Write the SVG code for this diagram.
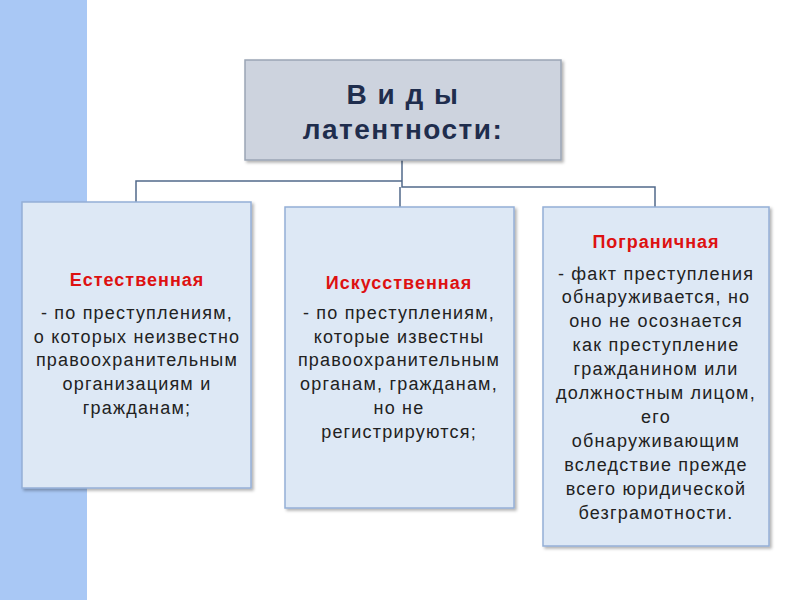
<svg xmlns="http://www.w3.org/2000/svg" width="800" height="600" viewBox="0 0 800 600">
<defs><filter id="sh" x="-5%" y="-5%" width="115%" height="115%"><feDropShadow dx="2" dy="2" stdDeviation="1.5" flood-color="#000" flood-opacity="0.3"/></filter></defs>
<style>
.b{fill:#dde8f5;stroke:#94afd6;stroke-width:1.5;filter:url(#sh)}
.c{fill:none;stroke:#51698a;stroke-width:1.5}
text{font-family:"Liberation Sans",Arial,sans-serif;text-anchor:middle}
.h{fill:#dd1111;font-weight:bold;font-size:18px;letter-spacing:1px}
.t{fill:#222;font-size:18px;letter-spacing:1.2px}
.ti{fill:#1f2d4d;font-weight:bold;font-size:28px;letter-spacing:1.5px}
</style>
<rect width="800" height="600" fill="#fff"/>
<rect x="0" y="0" width="87" height="600" fill="#a9c8f5"/>
<g id="connectors">
<path class="c" d="M402 160V181H136V202M402 181V187H655V207M400 187V207"/>
</g>
<g id="top"><rect class="b" x="245" y="60" width="316" height="100" style="fill:#cdd3de;stroke:#9aa5b5"/>
<text class="ti" x="403" y="104">В и д ы</text><text class="ti" x="403" y="139">латентности:</text></g>
<g id="n1"><rect class="b" x="22" y="202" width="229" height="286"/>
<text class="h" x="137" y="286">Естественная</text>
<text class="t" x="137" y="319">- по преступлениям,</text>
<text class="t" x="137" y="343">о которых неизвестно</text>
<text class="t" x="137" y="366">правоохранительным</text>
<text class="t" x="137" y="390">организациям и</text>
<text class="t" x="137" y="414">гражданам;</text></g>
<g id="n2"><rect class="b" x="285" y="207" width="229" height="301"/>
<text class="h" x="399" y="289">Искусственная</text>
<text class="t" x="399" y="319">- по преступлениям,</text>
<text class="t" x="399" y="343">которые известны</text>
<text class="t" x="399" y="366">правоохранительным</text>
<text class="t" x="399" y="390">органам, гражданам,</text>
<text class="t" x="399" y="414">но не</text>
<text class="t" x="399" y="438">регистрируются;</text></g>
<g id="n3"><rect class="b" x="543" y="207" width="226" height="339"/>
<text class="h" x="656" y="248">Пограничная</text>
<text class="t" x="656" y="280">- факт преступления</text>
<text class="t" x="656" y="303">обнаруживается, но</text>
<text class="t" x="656" y="327">оно не осознается</text>
<text class="t" x="656" y="351">как преступление</text>
<text class="t" x="656" y="375">гражданином или</text>
<text class="t" x="656" y="399">должностным лицом,</text>
<text class="t" x="656" y="423">его</text>
<text class="t" x="656" y="447">обнаруживающим</text>
<text class="t" x="656" y="471">вследствие прежде</text>
<text class="t" x="656" y="495">всего юридической</text>
<text class="t" x="656" y="519">безграмотности.</text></g>
</svg>
